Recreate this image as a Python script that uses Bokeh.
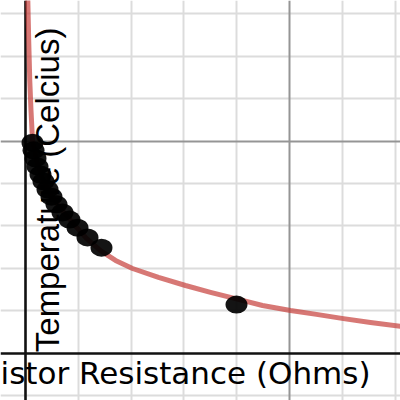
import numpy as np
from bokeh.plotting import figure
from bokeh.models import Span, Label, Grid, FixedTicker, ColumnDataSource
from bokeh.embed import file_html
from bokeh.resources import INLINE

# Measured thermistor data (Ohms, degrees Celsius)
resistance_ohms = [133, 152, 189, 227, 284, 341, 417, 492, 587, 701, 833, 985, 1174, 1439, 3996]
temperature_c = [49.6, 47.8, 45.9, 44.0, 42.1, 40.5, 38.6, 36.9, 35.1, 33.2, 31.5, 29.6, 27.3, 24.9, 11.5]

# Fitted curve
curve_r = [44, 61, 81, 104, 133, 208, 322, 473, 663, 890, 1155, 1420, 1705, 2027, 2519,
           3030, 3504, 3977, 4489, 5019, 5511, 6023, 6534, 7102, 7300]
curve_t = [83.1, 73.6, 64.2, 57.2, 50.1, 45.4, 41.2, 37.4, 34.1, 30.8, 27.1, 24.2, 21.9, 20.0, 17.9,
           16.0, 14.4, 12.9, 11.3, 10.1, 9.2, 8.2, 7.3, 6.4, 6.1]

x_minor_ticks = [-1000, 1000, 2000, 3000, 4000, 6000, 7000]
x_major_ticks = [5000]
y_minor_ticks = [-10, 10, 20, 30, 40, 60, 70, 80]
y_major_ticks = [50]

x_label = "Thermistor Resistance (Ohms)"
y_label = "Temperature (Celcius)"

p = figure(width=400, height=400, x_range=(-473.5, 7102.3), y_range=(-11.06, 83.06),
           output_backend="svg", toolbar_location=None, min_border=0)
p.xaxis.visible = False
p.yaxis.visible = False
p.outline_line_color = None
p.background_fill_color = "white"
p.border_fill_color = "white"

p.xgrid[0].ticker = FixedTicker(ticks=x_minor_ticks)
p.ygrid[0].ticker = FixedTicker(ticks=y_minor_ticks)
for g in (p.xgrid[0], p.ygrid[0]):
    g.grid_line_color = "#dcdcdc"
    g.grid_line_width = 2
    g.grid_line_alpha = 1.0

p.add_layout(Grid(dimension=0, ticker=FixedTicker(ticks=x_major_ticks),
                  grid_line_color="#959595", grid_line_width=2))
p.add_layout(Grid(dimension=1, ticker=FixedTicker(ticks=y_major_ticks),
                  grid_line_color="#959595", grid_line_width=2))

p.add_layout(Span(location=0, dimension="height", line_color="#111111", line_width=2.6, level="underlay"))
p.add_layout(Span(location=0, dimension="width", line_color="#111111", line_width=2.6, level="underlay"))

p.line(curve_r, curve_t, line_color="#c74440", line_alpha=0.72, line_width=5, line_cap="round", line_join="round")

src = ColumnDataSource(dict(r=resistance_ohms, t=temperature_c))
p.ellipse(x="r", y="t", width=22, height=18, width_units="screen", height_units="screen",
          source=src, fill_color="black", fill_alpha=0.92, line_color=None)

p.add_layout(Label(x=6534, y=-4.6, text=x_label, text_align="right", text_baseline="alphabetic",
                   text_font="DejaVu Sans", text_font_size="31px", text_color="black"))
p.add_layout(Label(x=417, y=0.3, text=y_label, angle=np.pi / 2, text_align="left",
                   text_baseline="alphabetic", text_font="Liberation Sans",
                   text_font_size="33px", text_color="black"))

open("out.html", "w").write(file_html(p, INLINE))
